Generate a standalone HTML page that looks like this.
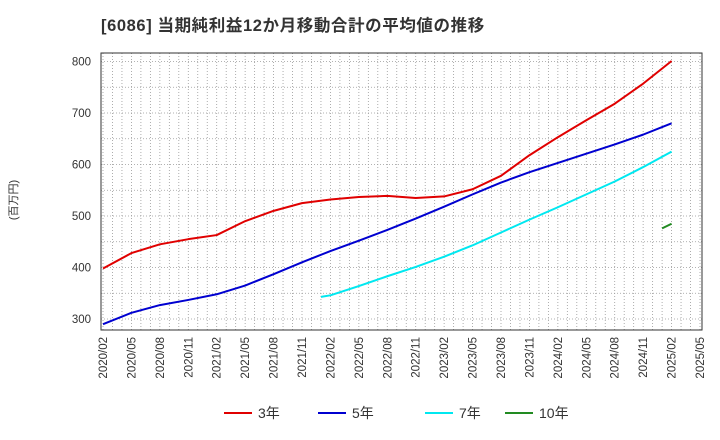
<!DOCTYPE html>
<html><head><meta charset="utf-8"><style>
body{margin:0;background:#fff;}
svg{display:block;font-family:"Liberation Sans","Noto Sans CJK JP",sans-serif;}
</style></head><body>
<svg id="chart" width="720" height="440" viewBox="0 0 720 440" xmlns="http://www.w3.org/2000/svg">
<text x="101" y="31" font-size="16.5" font-weight="bold" letter-spacing="0.6" fill="#333">[6086]  当期純利益12か月移動合計の平均値の推移</text>
<text transform="translate(17,200) rotate(-90)" text-anchor="middle" font-size="11" fill="#333">(百万円)</text>
<g id="grid"></g><g id="series"></g><g id="axes"></g>
<g font-size="14" fill="#333">
<line x1="224" y1="413" x2="252" y2="413" stroke="#e00000" stroke-width="2"/><text x="258" y="418">3年</text>
<line x1="318" y1="413" x2="346" y2="413" stroke="#0000d0" stroke-width="2"/><text x="352" y="418">5年</text>
<line x1="425" y1="413" x2="453" y2="413" stroke="#00e8f0" stroke-width="2"/><text x="459" y="418">7年</text>
<line x1="505" y1="413" x2="533" y2="413" stroke="#228b22" stroke-width="2"/><text x="539" y="418">10年</text>
</g>
</svg>
<script>
const tickLabels=["2020/02","2020/05","2020/08","2020/11","2021/02","2021/05","2021/08","2021/11","2022/02","2022/05","2022/08","2022/11","2023/02","2023/05","2023/08","2023/11","2024/02","2024/05","2024/08","2024/11","2025/02","2025/05"];
const yTicks=[300,400,500,600,700,800];
const s3Months=[0,3,6,9,12,15,18,21,24,27,30,33,36,39,42,45,48,51,54,57,60];
const s3=[398,428,445,455,463,490,510,525,532,537,539,535,538,552,578,618,653,686,718,757,801];
const s5Months=[0,3,6,9,12,15,18,21,24,27,30,33,36,39,42,45,48,51,54,57,60];
const s5=[290,312,327,337,348,365,387,410,432,452,473,495,518,542,565,585,603,621,639,658,680];
const s7Months=[23,24,27,30,33,36,39,42,45,48,51,54,57,60];
const s7=[343,346,364,383,401,421,443,468,493,517,542,567,595,625];
const s10Months=[59,60];
const s10=[476,485];
const L=101,R=702,T=53,B=330;
const x=m=>103+m*(597/63);
const y=v=>319-(v-300)*0.515;
const NS="http://www.w3.org/2000/svg";
const mk=(t,a,p)=>{const e=document.createElementNS(NS,t);for(const k in a)e.setAttribute(k,a[k]);p.appendChild(e);return e;};
const grid=document.getElementById('grid'),axes=document.getElementById('axes'),ser=document.getElementById('series');
for(let m=0;m<=63;m++){const l=mk('line',{x1:x(m),x2:x(m),y1:T,y2:B,stroke:'#999','stroke-width':0.8,'stroke-dasharray':'1,2'},grid);

}
for(let v=300;v<=800;v+=50){const l=mk('line',{x1:L,x2:R,y1:y(v),y2:y(v),stroke:'#999','stroke-width':0.8,'stroke-dasharray':'1,2'},grid);

}
const fr=mk('rect',{x:L,y:T,width:R-L,height:B-T,fill:'none',stroke:'#333','stroke-width':1},axes);


yTicks.forEach(v=>{const t=mk('text',{x:91,y:y(v)+4,'text-anchor':'end','font-size':11.5,fill:'#333'},axes);t.textContent=v;

});
tickLabels.forEach((s,i)=>{const xx=x(i*3);const t=mk('text',{transform:`translate(${xx+4},337) rotate(-90)`,'text-anchor':'end','font-size':11.5,fill:'#333'},axes);t.textContent=s;

});
function draw(ms,vs,c,name){const p=mk('polyline',{points:ms.map((m,i)=>x(m)+','+y(vs[i])).join(' '),fill:'none',stroke:c,'stroke-width':2,'stroke-linejoin':'round'},ser);

}
draw(s3Months,s3,'#e00000','series-3yr');
draw(s5Months,s5,'#0000d0','series-5yr');
draw(s7Months,s7,'#00e8f0','series-7yr');
draw(s10Months,s10,'#228b22','series-10yr');
</script>
</body></html>
